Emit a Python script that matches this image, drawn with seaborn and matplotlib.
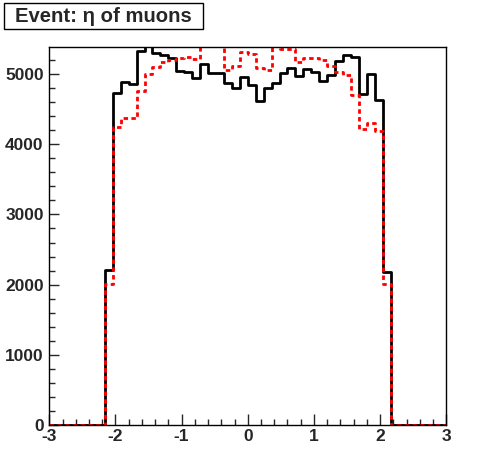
import numpy as np
import pandas as pd
import matplotlib
matplotlib.use("Agg")
import matplotlib.pyplot as plt
import seaborn as sns
from matplotlib.patches import Rectangle
from matplotlib.ticker import MultipleLocator

# eta histogram, 50 bins from -3 to 3 (only bins 7..42 filled)
edges = np.linspace(-3, 3, 51)
centers = (edges[:-1] + edges[1:]) / 2

black_counts = [0] * 7 + [
    2210, 4734, 4886, 4853, 5332, 5395, 5303, 5271, 5223, 5043,
    5030, 4938, 5138, 5018, 5018, 4870, 4805, 4962, 4850, 4620,
    4800, 4876, 5018, 5090, 4966, 5071, 5028, 4904, 4980, 5190,
    5271, 5238, 4715, 4996, 4630, 2175] + [0] * 7

red_counts = [0] * 7 + [
    2004, 4240, 4368, 4368, 4762, 5005, 5104, 5175, 5205, 5224,
    5238, 5209, 5399, 5399, 5399, 5057, 5116, 5318, 5290, 5081,
    5057, 5399, 5352, 5352, 5175, 5230, 5230, 5199, 5120, 5033,
    4986, 4701, 4212, 4306, 4192, 2004] + [0] * 7

title = "Event: \u03b7 of muons"

df = pd.DataFrame({"eta": centers, "black": black_counts, "red": red_counts})

sns.set_style("ticks")
plt.rcParams["font.family"] = ["Liberation Sans", "DejaVu Sans"]
plt.rcParams["font.weight"] = "bold"
plt.rcParams["axes.unicode_minus"] = False

fig = plt.figure(figsize=(4.96, 4.72), dpi=100)
ax = fig.add_axes([0.0994, 0.0996, 0.8002, 0.8015])

sns.histplot(data=df, x="eta", weights="black", binwidth=0.12, binrange=(-3, 3),
             element="step", fill=False, color="black", linewidth=2, ax=ax)
sns.histplot(data=df, x="eta", weights="red", binwidth=0.12, binrange=(-3, 3),
             element="step", fill=False, color="red", linewidth=2,
             linestyle=(0, (1.6, 1.2)), ax=ax)

ax.set_xlim(-3, 3)
ax.set_ylim(0, 5390)
ax.set_xlabel("")
ax.set_ylabel("")

ax.xaxis.set_major_locator(MultipleLocator(1))
ax.xaxis.set_minor_locator(MultipleLocator(0.2))
ax.yaxis.set_major_locator(MultipleLocator(1000))
ax.yaxis.set_minor_locator(MultipleLocator(200))

ax.tick_params(axis="x", which="major", direction="in", length=8, width=1,
               labelsize=12.5, pad=3)
ax.tick_params(axis="x", which="minor", direction="in", length=4, width=1)
ax.tick_params(axis="y", which="major", direction="in", length=7, width=1,
               labelsize=12.5, pad=4)
ax.tick_params(axis="y", which="minor", direction="in", length=4, width=1)
for lab in ax.get_xticklabels() + ax.get_yticklabels():
    lab.set_fontweight("bold")

for sp in ax.spines.values():
    sp.set_visible(True)
    sp.set_linewidth(1)
    sp.set_color("black")

# title box (ROOT style)
W, H = 496, 472
fig.patches.append(Rectangle((4 / W, 1 - 29.3 / H), 199 / W, 26.6 / H,
                             transform=fig.transFigure, facecolor="white",
                             edgecolor="black", linewidth=1))
fig.text(15 / W, 1 - 22 / H, title, fontsize=14.6, fontweight="bold",
         ha="left", va="baseline")

fig.savefig("out.png", dpi=100)
